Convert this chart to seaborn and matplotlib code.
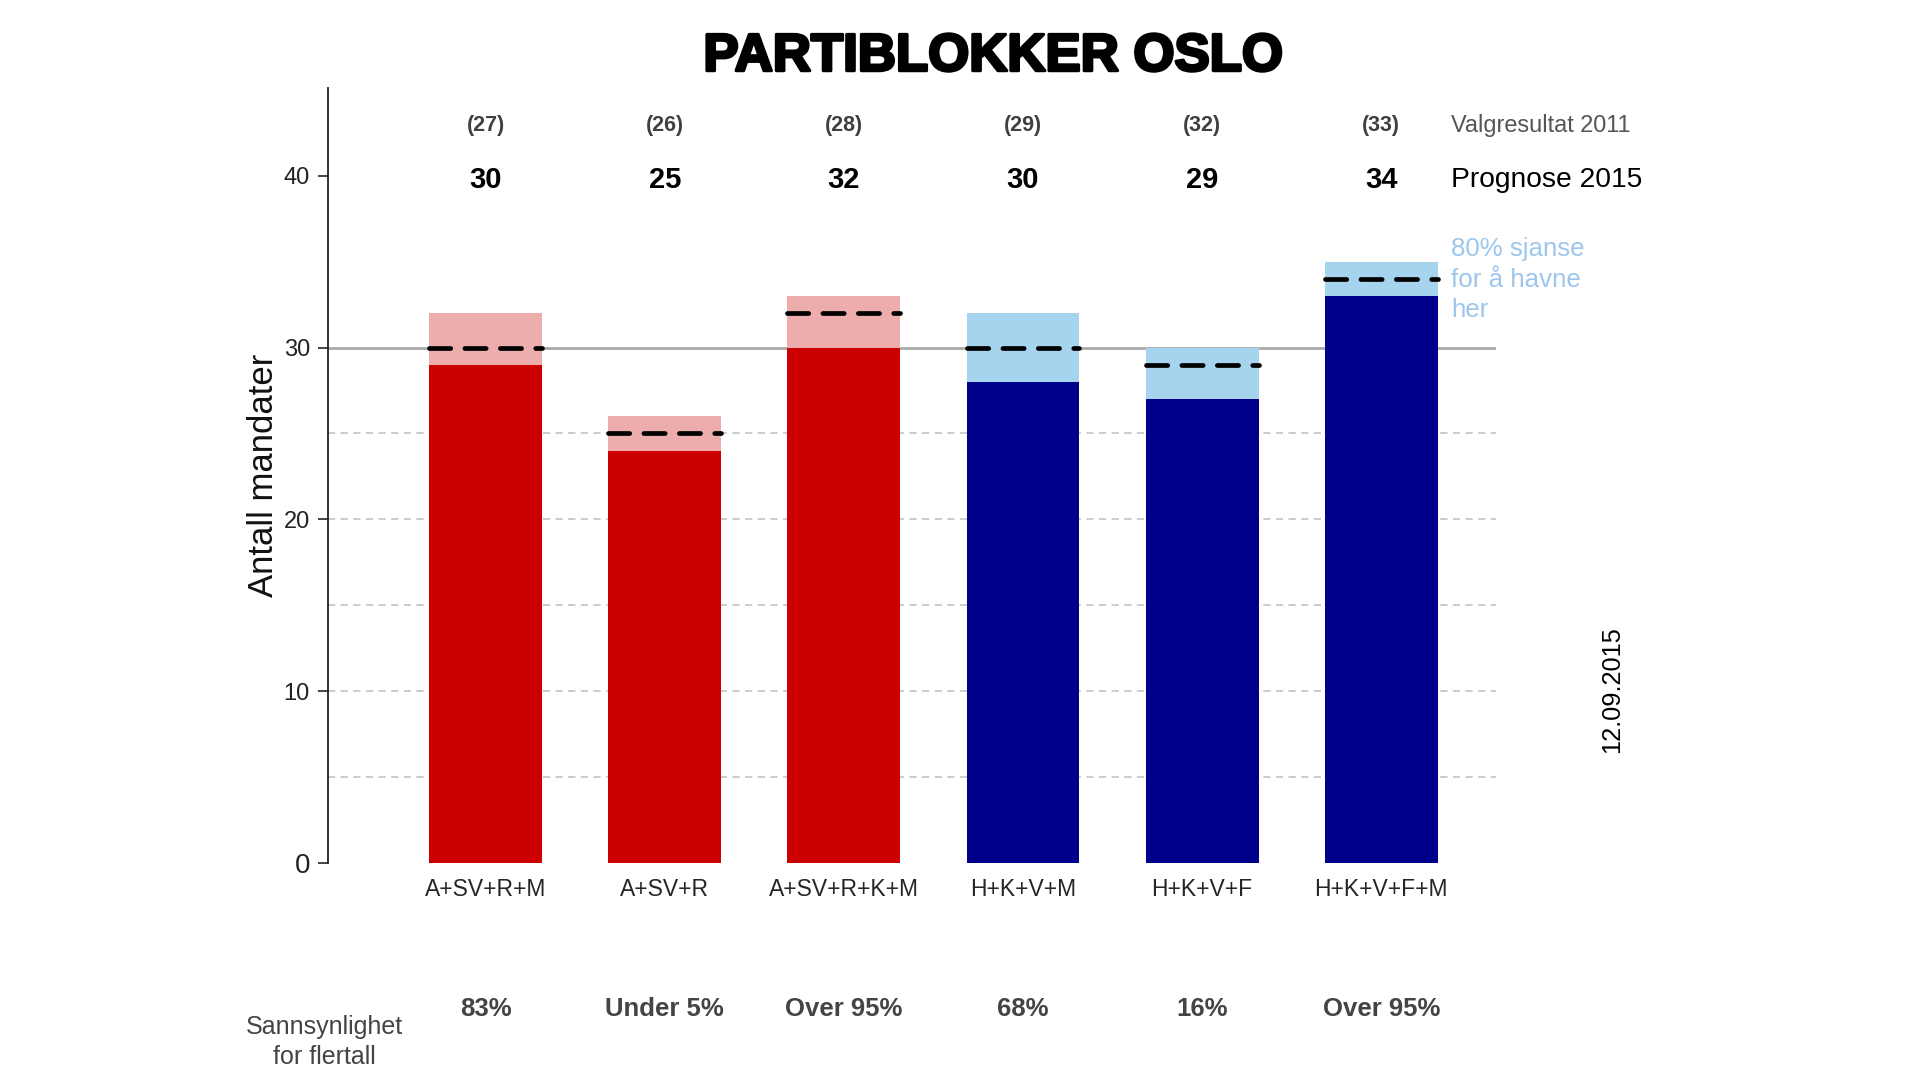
import pandas as pd
import numpy as np
import matplotlib
matplotlib.use("Agg")
import matplotlib.pyplot as plt
import matplotlib.patheffects as pe
import seaborn as sns

# data
blokker = ["A+SV+R+M", "A+SV+R", "A+SV+R+K+M", "H+K+V+M", "H+K+V+F", "H+K+V+F+M"]
prognose = [30, 25, 32, 30, 29, 34]
lav = [29, 24, 30, 28, 27, 33]
hoy = [32, 26, 33, 32, 30, 35]
valg2011 = [27, 26, 28, 29, 32, 33]
flertall = ["83%", "Under 5%", "Over 95%", "68%", "16%", "Over 95%"]
side = ["rod", "rod", "rod", "bla", "bla", "bla"]

dark = {"rod": "#CC0000", "bla": "#00008B"}
light = {"rod": "#EDADAD", "bla": "#A6D3EE"}

df = pd.DataFrame({"blokk": blokker, "lav": lav, "hoy": hoy, "prognose": prognose,
                   "valg": valg2011, "flertall": flertall, "side": side})

sns.set_style("white")
plt.rcParams["font.family"] = ["Liberation Sans", "DejaVu Sans"]

fig = plt.figure(figsize=(19.2, 10.8), dpi=100)
ax = fig.add_axes([0.1708, 0.2009, 0.6083, 0.7176])

bw = 0.63
# gridlines behind
for g in [5, 10, 15, 20, 25]:
    ax.axhline(g, color="#C8C8C8", lw=1.3, ls=(0, (4, 3)), zorder=0)
ax.axhline(30, color="#AAAAAA", lw=2, zorder=0.5)

# 80% interval (light) then lower part (dark) on top
sns.barplot(data=df, x="blokk", y="hoy", hue="blokk",
            palette=[light[s] for s in side], width=bw, saturation=1,
            linewidth=0, legend=False, ax=ax, zorder=1)
sns.barplot(data=df, x="blokk", y="lav", hue="blokk",
            palette=[dark[s] for s in side], width=bw, saturation=1,
            linewidth=0, legend=False, ax=ax, zorder=2)

xs = np.arange(len(blokker))
ax.hlines(df["prognose"], xs - bw / 2, xs + bw / 2, colors="black", lw=3.4,
          linestyles=(0, (4.5, 3.0)), zorder=3)
ax.collections[-1].set_capstyle("round")

for i, row in df.iterrows():
    ax.text(i, 42.93, f"({row['valg']})", ha="center", va="center",
            fontsize=15.5, fontweight="bold", color="#404040")
    ax.text(i, 39.75, str(row["prognose"]), ha="center", va="center",
            fontsize=21, fontweight="bold", color="black")
    ax.text(i, -8.5, row["flertall"], ha="center", va="center",
            fontsize=18.5, fontweight="bold", color="#444444")

ax.text(5.39, 42.9, "Valgresultat 2011", ha="left", va="center",
        fontsize=16.9, color="#555555")
ax.text(5.39, 39.75, "Prognose 2015", ha="left", va="center",
        fontsize=20.3, color="black")
ax.text(5.39, 36.45, "80% sjanse\nfor å havne\nher", ha="left", va="top",
        fontsize=18.6, color="#9CC6EC", linespacing=1.36)
ax.text(6.29, 10.1, "12.09.2015", ha="center", va="center", rotation=90,
        fontsize=18.3, color="black")
ax.text(-0.9, -10.4, "Sannsynlighet\nfor flertall", ha="center", va="center",
        fontsize=18, color="#444444", linespacing=1.3)

ax.set_xlim(-0.88, 5.64)
ax.set_ylim(0, 45.1)
ax.set_yticks([0, 10, 20, 30, 40])
ax.set_yticklabels(["0", "10", "20", "30", "40"])
ax.tick_params(axis="y", which="major", left=True, length=7, width=1.2,
               labelsize=17, labelcolor="#222222", pad=6)
ax.get_yticklabels()[0].set_fontsize(20)
ax.tick_params(axis="x", bottom=False, labelsize=16.5, pad=7)
ax.set_xlabel("")
ax.set_ylabel("Antall mandater", fontsize=25, color="#111111")
ax.yaxis.set_label_coords(-0.041, 0.5)

for s in ["top", "right", "bottom"]:
    ax.spines[s].set_visible(False)
ax.spines["left"].set_color("#222222")
ax.spines["left"].set_linewidth(1.3)

fig.text(0.517, 0.9475, "PARTIBLOKKER OSLO", ha="center", va="center",
         fontsize=38, fontweight="bold", color="black",
         path_effects=[pe.withStroke(linewidth=2.2, foreground="black")])

fig.savefig("out.png", dpi=100, facecolor="white")
